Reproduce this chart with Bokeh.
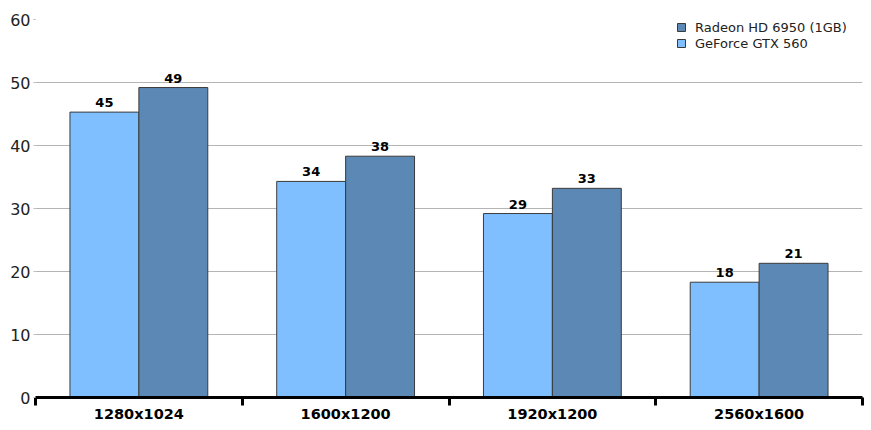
from bokeh.plotting import figure
from bokeh.models import ColumnDataSource, Range1d, FixedTicker, Legend, LegendItem, LabelSet
from bokeh.core.properties import value
from bokeh.embed import file_html
from bokeh.resources import INLINE

categories = ["1280x1024", "1600x1200", "1920x1200", "2560x1600"]
geforce = [45.3, 34.3, 29.2, 18.3]
radeon = [49.2, 38.3, 33.2, 21.3]
series_names = ["Radeon HD 6950 (1GB)", "GeForce GTX 560"]
y_ticks = [0, 10, 20, 30, 40, 50, 60]

FONT = "DejaVu Sans"
bar_w = 1 / 3

idx = list(range(len(categories)))
src_g = ColumnDataSource(dict(x=[i + 0.5 - bar_w / 2 for i in idx], top=geforce,
                              lab=[str(round(v)) for v in geforce]))
src_r = ColumnDataSource(dict(x=[i + 0.5 + bar_w / 2 for i in idx], top=radeon,
                              lab=[str(round(v)) for v in radeon]))

p = figure(width=871, height=430, output_backend="svg", toolbar_location=None,
           x_range=Range1d(0, len(categories)), y_range=Range1d(0, 60),
           min_border_left=35, min_border_right=9, min_border_top=19, min_border_bottom=33)
p.outline_line_color = None
p.background_fill_color = "white"

rg = p.vbar(x="x", top="top", width=bar_w, source=src_g, fill_color="#80BFFF",
            line_color="#3a3a3a", line_width=1)
rr = p.vbar(x="x", top="top", width=bar_w, source=src_r, fill_color="#5B88B5",
            line_color="#3a3a3a", line_width=1)

for s in (src_g, src_r):
    p.add_layout(LabelSet(x="x", y="top", text="lab", source=s, text_align="center",
                          text_baseline="bottom", y_offset=5, text_font=value(FONT),
                          text_font_size="13px", text_font_style="bold", text_color="black"))

# x axis
xa = p.xaxis[0]
xa.ticker = FixedTicker(ticks=[i + 0.5 for i in idx], minor_ticks=list(range(len(categories) + 1)))
xa.major_label_overrides = {i + 0.5: c for i, c in zip(idx, categories)}
xa.axis_line_width = 3
xa.axis_line_color = "black"
xa.major_tick_line_color = None
xa.major_tick_out = 0
xa.minor_tick_out = 8
xa.minor_tick_in = 0
xa.minor_tick_line_width = 3
xa.minor_tick_line_color = "black"
xa.major_label_text_font = FONT
xa.major_label_text_font_size = "14.5px"
xa.major_label_text_font_style = "bold"
xa.major_label_text_color = "black"
xa.major_label_standoff = 0
p.xgrid.grid_line_color = None

# y axis
ya = p.yaxis[0]
ya.ticker = FixedTicker(ticks=y_ticks)
ya.axis_line_color = None
ya.major_tick_line_color = "#b4b4b4"
ya.major_tick_out = 2
ya.major_tick_in = 0
ya.minor_tick_line_color = None
ya.major_label_text_font = FONT
ya.major_label_text_font_size = "16px"
ya.major_label_text_color = "#222222"
ya.major_label_standoff = 3
p.ygrid.ticker = FixedTicker(ticks=y_ticks)
p.ygrid.grid_line_color = "#b4b4b4"
p.ygrid.grid_line_width = 1

legend = Legend(items=[LegendItem(label=series_names[0], renderers=[rr]),
                       LegendItem(label=series_names[1], renderers=[rg])],
                location=(641, 346), border_line_color=None, background_fill_alpha=0,
                label_text_font=FONT, label_text_font_size="13px", label_text_color="#222222",
                glyph_width=10, glyph_height=10, spacing=0, padding=2, margin=0,
                label_height=16, label_standoff=9)
p.add_layout(legend)

open("out.html", "w").write(file_html(p, INLINE))
